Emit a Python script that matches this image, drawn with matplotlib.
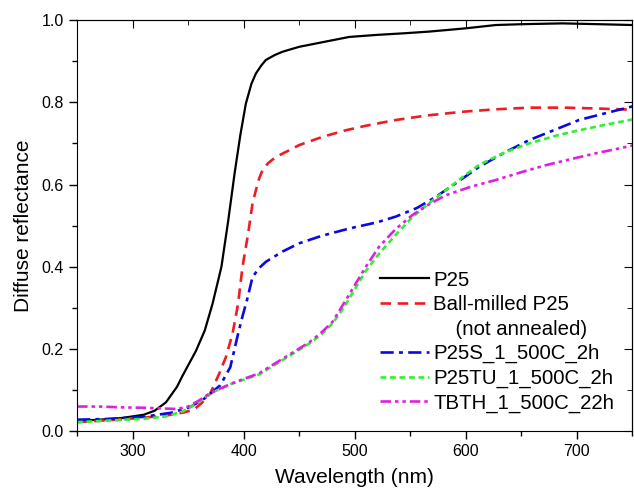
import numpy as np
import matplotlib.pyplot as plt
from matplotlib.ticker import MultipleLocator

plt.rcParams['font.family'] = ['Liberation Sans', 'DejaVu Sans']

# wavelength (nm) / reflectance
wl_p25 = [250, 270, 290, 310, 320, 330, 340, 345, 350, 357, 365, 372, 380, 386, 392, 397, 402, 407, 411,
          416, 420, 428, 435, 450, 465, 480, 495, 520, 545, 567, 600, 627, 650, 687, 720, 750]
r_p25 = [0.025, 0.028, 0.032, 0.040, 0.050, 0.070, 0.108, 0.135, 0.160, 0.195, 0.245, 0.31, 0.40, 0.51,
         0.63, 0.72, 0.797, 0.845, 0.870, 0.890, 0.903, 0.915, 0.923, 0.935, 0.943, 0.951, 0.959, 0.964,
         0.968, 0.972, 0.980, 0.988, 0.990, 0.992, 0.990, 0.988]

wl_bm = [250, 280, 310, 330, 345, 355, 362, 370, 378, 384, 390, 395, 399, 404, 408, 411, 414, 417, 422,
         429, 440, 450, 471, 492, 510, 537, 565, 597, 627, 657, 690, 717, 750]
r_bm = [0.022, 0.027, 0.033, 0.038, 0.045, 0.052, 0.068, 0.092, 0.14, 0.18, 0.237, 0.31, 0.40, 0.48,
        0.554, 0.586, 0.615, 0.635, 0.652, 0.667, 0.682, 0.696, 0.716, 0.732, 0.743, 0.757, 0.768, 0.777,
        0.783, 0.787, 0.787, 0.785, 0.782]

wl_s = [250, 280, 310, 335, 352, 365, 379, 388, 395, 399, 403, 408, 414, 420, 435, 450, 470, 495, 520,
        537, 556, 573, 592, 612, 635, 657, 680, 702, 725, 750]
r_s = [0.028, 0.030, 0.035, 0.045, 0.059, 0.080, 0.112, 0.156, 0.237, 0.28, 0.319, 0.375, 0.397, 0.412,
       0.437, 0.457, 0.475, 0.493, 0.508, 0.522, 0.543, 0.570, 0.605, 0.643, 0.678, 0.708, 0.733, 0.757,
       0.773, 0.790]

wl_tu = [250, 280, 310, 330, 345, 358, 370, 390, 414, 441, 459, 470, 480, 490, 500, 510, 522, 537, 552,
         567, 582, 597, 612, 635, 657, 680, 702, 725, 750]
r_tu = [0.022, 0.026, 0.030, 0.036, 0.048, 0.068, 0.092, 0.116, 0.138, 0.183, 0.213, 0.235, 0.262, 0.30,
        0.345, 0.39, 0.432, 0.478, 0.521, 0.555, 0.586, 0.618, 0.648, 0.678, 0.700, 0.718, 0.732, 0.745,
        0.758]

wl_tb = [250, 270, 290, 310, 330, 340, 350, 360, 370, 390, 414, 441, 459, 470, 480, 490, 500, 510, 522,
         537, 552, 567, 582, 605, 627, 650, 672, 695, 717, 735, 750]
r_tb = [0.060, 0.060, 0.058, 0.057, 0.055, 0.054, 0.060, 0.075, 0.093, 0.117, 0.141, 0.186, 0.216, 0.240,
        0.266, 0.31, 0.355, 0.40, 0.449, 0.492, 0.526, 0.552, 0.574, 0.595, 0.611, 0.630, 0.647, 0.662,
        0.676, 0.686, 0.695]

fig = plt.figure(figsize=(6.34, 4.9), dpi=100)
ax = fig.add_axes([0.1215, 0.120, 0.876, 0.839])

ax.plot(wl_p25, r_p25, color='black', lw=1.6, label='P25')
ax.plot(wl_bm, r_bm, color='#ee1c24', lw=1.9, dashes=(4, 2.5), label='Ball-milled P25')
ax.plot([], [], color='none', label='    (not annealed)')
ax.plot(wl_s, r_s, color='#0a0ae0', lw=1.9, dashes=(5, 2, 1.5, 2), label='P25S_1_500C_2h')
ax.plot(wl_tu, r_tu, color='#33ee33', lw=1.9, dashes=(2.2, 1.4), label='P25TU_1_500C_2h')
ax.plot(wl_tb, r_tb, color='#e020e0', lw=1.9, dashes=(4, 1.5, 1.3, 1.5, 1.3, 1.5), label='TBTH_1_500C_22h')

ax.set_xlim(250, 750)
ax.set_ylim(0, 1.0)
ax.xaxis.set_major_locator(MultipleLocator(100))
ax.xaxis.set_minor_locator(MultipleLocator(50))
ax.yaxis.set_major_locator(MultipleLocator(0.2))
ax.yaxis.set_minor_locator(MultipleLocator(0.1))
ax.yaxis.set_major_formatter(lambda v, p: f'{v:.1f}')

ax.tick_params(which='both', direction='out', labelsize=11.5, width=1)
ax.tick_params(which='major', length=6)
ax.tick_params(which='minor', length=3.5)
# mirrored ticks on top/right point inward
for is_x in (True, False):
    sec = ax.secondary_xaxis('top') if is_x else ax.secondary_yaxis('right')
    axis = sec.xaxis if is_x else sec.yaxis
    axis.set_major_locator(MultipleLocator(100 if is_x else 0.2))
    axis.set_minor_locator(MultipleLocator(50 if is_x else 0.1))
    sec.tick_params(which='both', direction='in', labelleft=False, labelright=False,
                    labeltop=False, labelbottom=False)
    sec.tick_params(which='major', length=6)
    sec.tick_params(which='minor', length=3.5)

ax.set_xlabel('Wavelength (nm)', fontsize=15, labelpad=6)
ax.set_ylabel('Diffuse reflectance', fontsize=15, labelpad=6)

ax.legend(loc='lower right', bbox_to_anchor=(1.0, 0.0), frameon=False, fontsize=14.7,
          handlelength=2.4, handletextpad=0.2, labelspacing=0.27, borderaxespad=0.5)

fig.savefig('out.png', dpi=100)
